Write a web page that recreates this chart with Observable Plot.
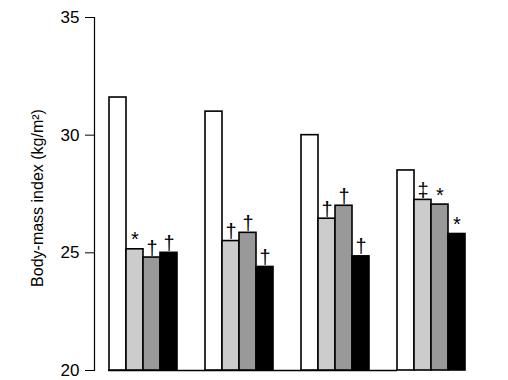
<!DOCTYPE html>
<html>
<head>
<meta charset="utf-8">
<script src="https://cdn.jsdelivr.net/npm/d3@7"></script>
<script src="https://cdn.jsdelivr.net/npm/@observablehq/plot@0.6"></script>
<style>
  html, body { margin: 0; padding: 0; background: #fff; }
  #chart svg { display: block; }
</style>
</head>
<body>
<div id="chart"></div>
<script>
const groups = ["Group 1", "Group 2", "Group 3", "Group 4"];
const series = ["A", "B", "C", "D"];
const fills = ["#ffffff", "#cccccc", "#999999", "#000000"];
const values = [
  [31.6, 25.15, 24.8, 25.0],
  [31.0, 25.5, 25.85, 24.4],
  [30.0, 26.45, 27.0, 24.85],
  [28.5, 27.25, 27.05, 25.8]
];
const symbols = [
  ["", "*", "\u2020", "\u2020"],
  ["", "\u2020", "\u2020", "\u2020"],
  ["", "\u2020", "\u2020", "\u2020"],
  ["", "\u2021", "*", "*"]
];
const yTicks = [20, 25, 30, 35];
const yLabel = "Body-mass index (kg/m\u00b2)";

const data = [];
groups.forEach((g, i) => series.forEach((s, j) => {
  data.push({group: g, series: s, value: values[i][j], symbol: symbols[i][j]});
}));

const font = "'Liberation Sans', Arial, Helvetica, sans-serif";

const chart = Plot.plot({
  width: 508,
  height: 380,
  marginTop: 17,
  marginBottom: 10,
  marginLeft: 106,
  marginRight: 40,
  style: {fontFamily: font, background: "#fff", color: "#000"},
  fx: {domain: groups, paddingInner: 0.268, paddingOuter: 0, axis: null, label: null},
  x: {domain: series, padding: 0, axis: null, label: null},
  y: {domain: [20, 35], axis: null},
  color: {domain: series, range: fills},
  marks: [
    Plot.ruleY(data.filter(d => d.series === "A" && d.group !== groups[groups.length - 1]), {fx: "group", y: () => 20, insetRight: -27, stroke: "#000", strokeWidth: 1.6}),
    Plot.barY(data, {fx: "group", x: "series", y1: 20, y2: "value", fill: "series", stroke: "#000", strokeWidth: 1.6}),
    Plot.text(data, {fx: "group", x: "series", y: "value", text: "symbol", lineAnchor: "bottom", dy: -3, fontSize: 20, fill: "#000"}),
    Plot.axisY({ticks: yTicks, tickSize: 9, tickPadding: 6, dx: -14, fontSize: 17, label: null, facetAnchor: "left"}),
    Plot.text([yLabel], {frameAnchor: "left", textAnchor: "middle", rotate: -90, dx: -71, dy: 4, fontSize: 16, fill: "#000", facetAnchor: "left"}),
    Plot.frame({anchor: "left", dx: -14, facetAnchor: "left", strokeWidth: 1.2})
  ]
});
document.getElementById("chart").appendChild(chart);
</script>
</body>
</html>
